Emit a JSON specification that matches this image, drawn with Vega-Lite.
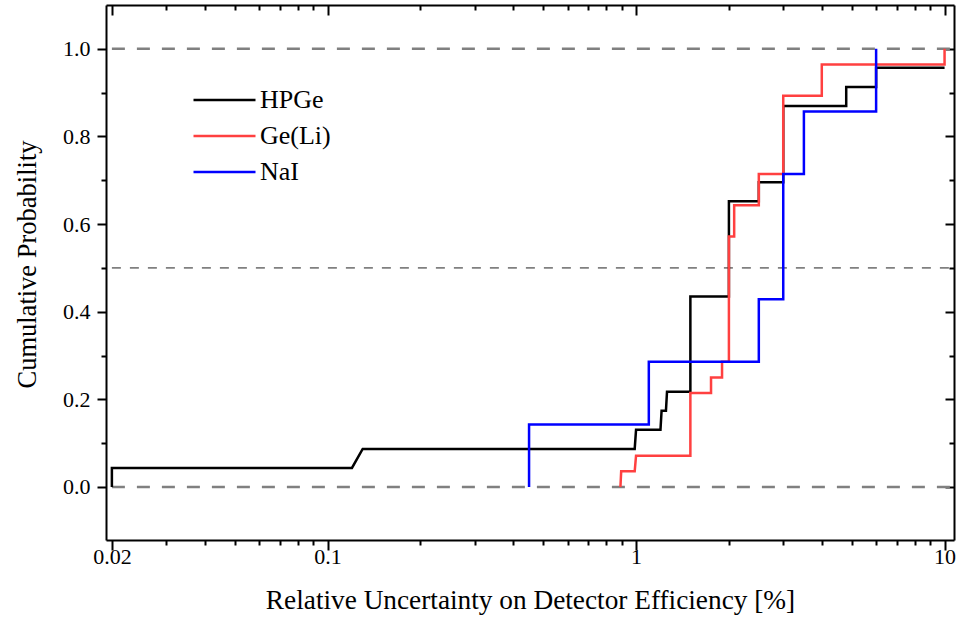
{
  "$schema": "https://vega.github.io/schema/vega-lite/v6.json",
  "autosize": "none",
  "width": 848,
  "height": 535,
  "padding": {"left": 106, "top": 5, "right": 2, "bottom": 78},
  "background": "white",
  "config": {
    "view": {"stroke": null},
    "font": "Liberation Serif",
    "legend": {"labelFont": "Liberation Serif"},
    "axis": {
      "grid": false,
      "domainColor": "black",
      "domainWidth": 2,
      "tickColor": "black",
      "tickWidth": 2,
      "labelFont": "Liberation Serif",
      "titleFont": "Liberation Serif",
      "labelColor": "black",
      "titleColor": "black",
      "titleFontWeight": "normal",
      "labelFontSize": 22,
      "titleFontSize": 26.5
    }
  },
  "datasets": {
    "curves": [
      {"series": "HPGe", "o": 1, "x": 0.02, "y": 0},
      {"series": "HPGe", "o": 2, "x": 0.02, "y": 0.04348},
      {"series": "HPGe", "o": 3, "x": 0.12, "y": 0.04348},
      {"series": "HPGe", "o": 4, "x": 0.13, "y": 0.08696},
      {"series": "HPGe", "o": 5, "x": 0.99, "y": 0.08696},
      {"series": "HPGe", "o": 6, "x": 1.0, "y": 0.13043},
      {"series": "HPGe", "o": 7, "x": 1.2, "y": 0.13043},
      {"series": "HPGe", "o": 8, "x": 1.21, "y": 0.17391},
      {"series": "HPGe", "o": 9, "x": 1.25, "y": 0.17391},
      {"series": "HPGe", "o": 10, "x": 1.26, "y": 0.21739},
      {"series": "HPGe", "o": 11, "x": 1.5, "y": 0.21739},
      {"series": "HPGe", "o": 12, "x": 1.5, "y": 0.43478},
      {"series": "HPGe", "o": 13, "x": 2.0, "y": 0.43478},
      {"series": "HPGe", "o": 14, "x": 2.0, "y": 0.65217},
      {"series": "HPGe", "o": 15, "x": 2.5, "y": 0.65217},
      {"series": "HPGe", "o": 16, "x": 2.5, "y": 0.69565},
      {"series": "HPGe", "o": 17, "x": 3.0, "y": 0.69565},
      {"series": "HPGe", "o": 18, "x": 3.0, "y": 0.86957},
      {"series": "HPGe", "o": 19, "x": 4.8, "y": 0.86957},
      {"series": "HPGe", "o": 20, "x": 4.8, "y": 0.91304},
      {"series": "HPGe", "o": 21, "x": 6.0, "y": 0.91304},
      {"series": "HPGe", "o": 22, "x": 6.0, "y": 0.95652},
      {"series": "HPGe", "o": 23, "x": 10.0, "y": 0.95652},
      {"series": "Ge(Li)", "o": 1, "x": 0.89, "y": 0},
      {"series": "Ge(Li)", "o": 2, "x": 0.895, "y": 0.03571},
      {"series": "Ge(Li)", "o": 3, "x": 0.99, "y": 0.03571},
      {"series": "Ge(Li)", "o": 4, "x": 1.0, "y": 0.07143},
      {"series": "Ge(Li)", "o": 5, "x": 1.5, "y": 0.07143},
      {"series": "Ge(Li)", "o": 6, "x": 1.5, "y": 0.21429},
      {"series": "Ge(Li)", "o": 7, "x": 1.75, "y": 0.21429},
      {"series": "Ge(Li)", "o": 8, "x": 1.75, "y": 0.25},
      {"series": "Ge(Li)", "o": 9, "x": 1.9, "y": 0.25},
      {"series": "Ge(Li)", "o": 10, "x": 1.9, "y": 0.28571},
      {"series": "Ge(Li)", "o": 11, "x": 2.0, "y": 0.28571},
      {"series": "Ge(Li)", "o": 12, "x": 2.0, "y": 0.57143},
      {"series": "Ge(Li)", "o": 13, "x": 2.08, "y": 0.57143},
      {"series": "Ge(Li)", "o": 14, "x": 2.08, "y": 0.64286},
      {"series": "Ge(Li)", "o": 15, "x": 2.5, "y": 0.64286},
      {"series": "Ge(Li)", "o": 16, "x": 2.5, "y": 0.71429},
      {"series": "Ge(Li)", "o": 17, "x": 3.0, "y": 0.71429},
      {"series": "Ge(Li)", "o": 18, "x": 3.0, "y": 0.89286},
      {"series": "Ge(Li)", "o": 19, "x": 4.0, "y": 0.89286},
      {"series": "Ge(Li)", "o": 20, "x": 4.0, "y": 0.96429},
      {"series": "Ge(Li)", "o": 21, "x": 10.0, "y": 0.96429},
      {"series": "Ge(Li)", "o": 22, "x": 10.0, "y": 1.0},
      {"series": "NaI", "o": 1, "x": 0.45, "y": 0},
      {"series": "NaI", "o": 2, "x": 0.45, "y": 0.14286},
      {"series": "NaI", "o": 3, "x": 1.1, "y": 0.14286},
      {"series": "NaI", "o": 4, "x": 1.1, "y": 0.28571},
      {"series": "NaI", "o": 5, "x": 2.5, "y": 0.28571},
      {"series": "NaI", "o": 6, "x": 2.5, "y": 0.42857},
      {"series": "NaI", "o": 7, "x": 3.0, "y": 0.42857},
      {"series": "NaI", "o": 8, "x": 3.0, "y": 0.71429},
      {"series": "NaI", "o": 9, "x": 3.5, "y": 0.71429},
      {"series": "NaI", "o": 10, "x": 3.5, "y": 0.85714},
      {"series": "NaI", "o": 11, "x": 6.0, "y": 0.85714},
      {"series": "NaI", "o": 12, "x": 6.0, "y": 1.0}
    ],
    "refs": [
      {"k": "major", "y": 0, "x": 0.02, "x2": 10.73},
      {"k": "major", "y": 1, "x": 0.02, "x2": 10.73},
      {"k": "minor", "y": 0.5, "x": 0.02, "x2": 10.73}
    ]
  },
  "resolve": {"axis": {"x": "independent", "y": "independent"}},
  "layer": [
    {
      "data": {"name": "refs"},
      "transform": [{"filter": "datum.k == 'major'"}],
      "mark": {"type": "rule", "color": "#808080", "strokeWidth": 2.5, "strokeDash": [13, 12]},
      "encoding": {
        "x": {
          "field": "x", "type": "quantitative",
          "scale": {"type": "log", "domain": [0.01914, 10.73], "nice": false},
          "axis": {
            "orient": "bottom",
            "title": "Relative Uncertainty on Detector Efficiency [%]",
            "titleFontSize": 27.3,
            "titleX": 424, "titleY": 60, "titleBaseline": "middle", "titleAlign": "center",
            "values": [0.02, 0.03, 0.04, 0.05, 0.06, 0.07, 0.08, 0.09, 0.1, 0.2, 0.3, 0.4, 0.5, 0.6, 0.7, 0.8, 0.9, 1, 2, 3, 4, 5, 6, 7, 8, 9, 10],
            "labelExpr": "datum.value == 0.02 ? '0.02' : datum.value == 0.1 ? '0.1' : datum.value == 1 ? '1' : datum.value == 10 ? '10' : ''",
            "labelOverlap": false, "labelBound": false, "labelFlush": false,
            "tickSize": {"condition": {"test": "datum.value == 0.02 || datum.value == 0.1 || datum.value == 1 || datum.value == 10", "value": 10}, "value": 5},
            "labelPadding": -4
          }
        },
        "x2": {"field": "x2"},
        "y": {
          "field": "y", "type": "quantitative",
          "scale": {"domain": [-0.121, 1.1], "nice": false, "zero": false},
          "axis": {
            "orient": "left",
            "title": "Cumulative Probability",
            "titleX": -79, "titleY": 259, "titleBaseline": "middle", "titleAlign": "center", "titleAngle": -90,
            "values": [0, 0.1, 0.2, 0.3, 0.4, 0.5, 0.6, 0.7, 0.8, 0.9, 1.0],
            "labelExpr": "round(datum.value * 10) % 2 == 0 ? format(datum.value, '.1f') : ''",
            "labelOverlap": false, "labelBound": false, "labelFlush": false,
            "tickSize": {"condition": {"test": "round(datum.value * 10) % 2 == 0", "value": 9}, "value": 5},
            "labelPadding": 7
          }
        }
      }
    },
    {
      "data": {"name": "refs"},
      "transform": [{"filter": "datum.k == 'minor'"}],
      "mark": {"type": "rule", "color": "#808080", "strokeWidth": 1.8, "strokeDash": [9, 9]},
      "encoding": {
        "x": {"field": "x", "type": "quantitative", "scale": {"type": "log", "domain": [0.01914, 10.73], "nice": false}, "axis": null},
        "x2": {"field": "x2"},
        "y": {"field": "y", "type": "quantitative", "scale": {"domain": [-0.121, 1.1], "nice": false, "zero": false}, "axis": null}
      }
    },
    {
      "data": {"name": "curves"},
      "transform": [{"filter": "datum.series == 'HPGe'"}],
      "mark": {"type": "line", "strokeWidth": 2.5, "interpolate": "linear"},
      "encoding": {
        "x": {"field": "x", "type": "quantitative", "scale": {"type": "log", "domain": [0.01914, 10.73], "nice": false}, "axis": null},
        "y": {"field": "y", "type": "quantitative", "scale": {"domain": [-0.121, 1.1], "nice": false, "zero": false}, "axis": null},
        "order": {"field": "o", "type": "quantitative"},
        "color": {
          "field": "series", "type": "nominal",
          "scale": {"domain": ["HPGe", "Ge(Li)", "NaI"], "range": ["#000000", "#ff4040", "#0000ff"]},
          "legend": {
            "orient": "none", "legendX": 86, "legendY": 83, "title": null,
            "symbolType": "stroke", "symbolSize": 3844, "symbolStrokeWidth": 2.5,
            "labelFont": "Liberation Serif", "labelFontSize": 26, "labelColor": "black",
            "labelOffset": 3, "rowPadding": 10, "clipHeight": 24, "padding": 0
          }
        }
      }
    },
    {
      "data": {"name": "curves"},
      "transform": [{"filter": "datum.series == 'Ge(Li)'"}],
      "mark": {"type": "line", "strokeWidth": 2.5, "interpolate": "linear"},
      "encoding": {
        "x": {"field": "x", "type": "quantitative", "scale": {"type": "log", "domain": [0.01914, 10.73], "nice": false}, "axis": null},
        "y": {"field": "y", "type": "quantitative", "scale": {"domain": [-0.121, 1.1], "nice": false, "zero": false}, "axis": null},
        "order": {"field": "o", "type": "quantitative"},
        "color": {"field": "series", "type": "nominal"}
      }
    },
    {
      "data": {"name": "curves"},
      "transform": [{"filter": "datum.series == 'NaI'"}],
      "mark": {"type": "line", "strokeWidth": 2.5, "interpolate": "linear"},
      "encoding": {
        "x": {"field": "x", "type": "quantitative", "scale": {"type": "log", "domain": [0.01914, 10.73], "nice": false}, "axis": null},
        "y": {"field": "y", "type": "quantitative", "scale": {"domain": [-0.121, 1.1], "nice": false, "zero": false}, "axis": null},
        "order": {"field": "o", "type": "quantitative"},
        "color": {"field": "series", "type": "nominal"}
      }
    },
    {
      "data": {"name": "curves"},
      "mark": {"type": "point", "opacity": 0},
      "encoding": {
        "x": {
          "field": "x", "type": "quantitative",
          "scale": {"type": "log", "domain": [0.01914, 10.73], "nice": false},
          "axis": {
            "orient": "top", "title": null, "labels": false,
            "values": [0.02, 0.03, 0.04, 0.05, 0.06, 0.07, 0.08, 0.09, 0.1, 0.2, 0.3, 0.4, 0.5, 0.6, 0.7, 0.8, 0.9, 1, 2, 3, 4, 5, 6, 7, 8, 9, 10],
            "tickSize": {"condition": {"test": "datum.value == 0.02 || datum.value == 0.1 || datum.value == 1 || datum.value == 10", "value": -10}, "value": -5}
          }
        },
        "y": {
          "field": "y", "type": "quantitative",
          "scale": {"domain": [-0.121, 1.1], "nice": false, "zero": false},
          "axis": {
            "orient": "right", "title": null, "labels": false,
            "values": [0, 0.1, 0.2, 0.3, 0.4, 0.5, 0.6, 0.7, 0.8, 0.9, 1.0],
            "tickSize": {"condition": {"test": "round(datum.value * 10) % 2 == 0", "value": -9}, "value": -5}
          }
        }
      }
    }
  ]
}
